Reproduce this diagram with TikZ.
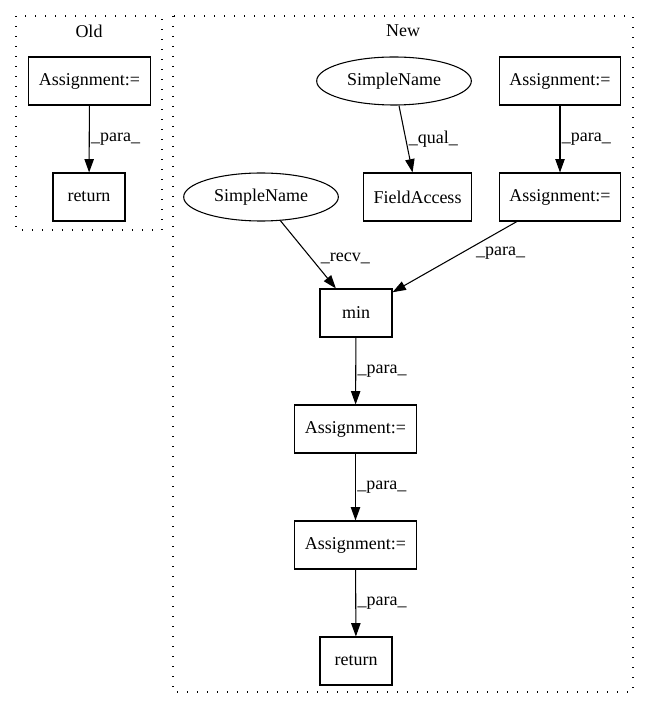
\documentclass[tikz,border=0pt]{standalone}
\usepackage{fontspec}
\setmainfont{Liberation Serif}
\usetikzlibrary{arrows.meta,shapes.geometric}
\begin{document}
\begin{tikzpicture}[x=0.75pt,y=-0.75pt,
        every node/.style={font=\fontsize{13.5}{16}\selectfont},
        op/.style={draw,rectangle,line width=0.8pt,minimum width=54pt,minimum height=36pt,inner xsep=7.5pt},
        nm/.style={draw,ellipse,line width=0.8pt,minimum width=116pt,minimum height=36pt,inner sep=0pt},
        flow/.style={line width=0.8pt,-{Triangle[length=10pt,width=7pt]}},
        lbl/.style={anchor=west,inner sep=1pt},
        cluster/.style={line width=0.8pt,dash pattern=on 1pt off 6.5pt}]
    \useasboundingbox (0,0) rectangle (649,712);
    %% Clusters
    \draw[cluster] (16,16) rectangle (162,230);
    \node (old) at (89,31) {Old};
    \draw[cluster] (173,16) rectangle (633,692);
    \node (new) at (403,31) {New};
    %% Old
    \node[op] (oasg) at (89.5,81) {Assignment:=};
    \node[op] (oret) at (89,197) {return};
    \draw[flow] (oasg) -- (oret) node[lbl,midway] {\_para\_};
    %% New
    \node[nm] (sntop) at (394,81) {SimpleName};
    \node[op] (asgtop) at (560,81) {Assignment:=};
    \node[nm] (snleft) at (261,197) {SimpleName};
    \node[op] (field) at (417.5,197) {FieldAccess};
    \node[op] (asgmid) at (560,197) {Assignment:=};
    \node[op] (min) at (356,313) {min};
    \node[op] (asga) at (355.5,429) {Assignment:=};
    \node[op] (asgb) at (355.5,545) {Assignment:=};
    \node[op] (nret) at (356,661) {return};
    %% Edges
    \draw[flow] (sntop) -- (field) node[lbl,midway,xshift=1pt] {\_qual\_};
    \draw[flow] (asgtop) -- (asgmid) node[lbl,midway] {\_para\_};
    \draw[flow] (snleft) -- (min) node[lbl,pos=0.55,xshift=6pt] {\_recv\_};
    \draw[flow] (asgmid) -- (min) node[lbl,pos=0.45,xshift=10pt] {\_para\_};
    \draw[flow] (min) -- (asga) node[lbl,midway] {\_para\_};
    \draw[flow] (asga) -- (asgb) node[lbl,midway] {\_para\_};
    \draw[flow] (asgb) -- (nret) node[lbl,midway] {\_para\_};
\end{tikzpicture}
\end{document}
